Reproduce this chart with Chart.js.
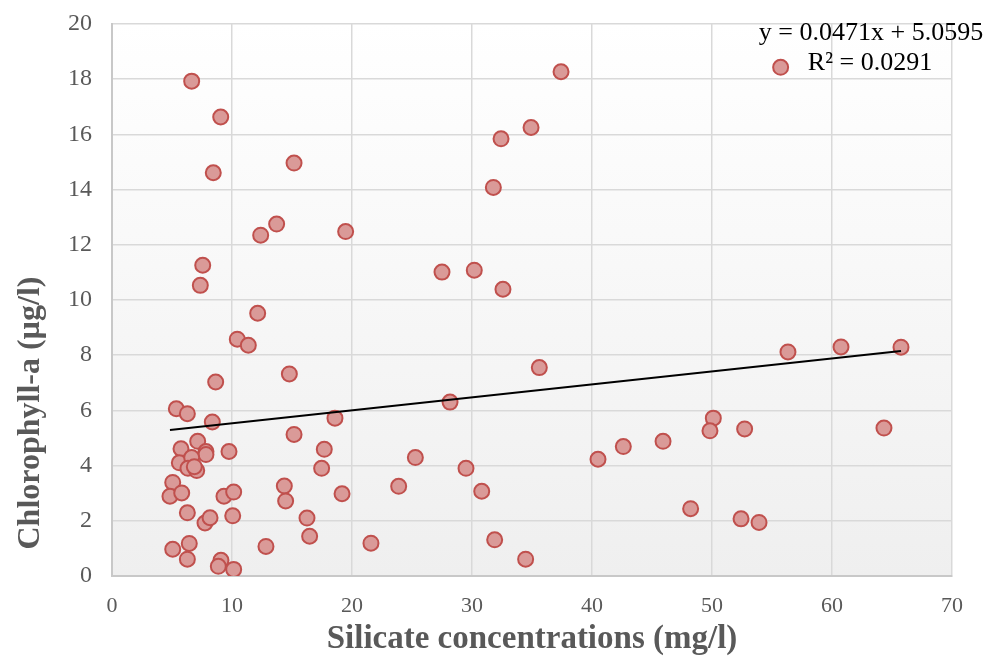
<!DOCTYPE html>
<html>
<head>
<meta charset="utf-8">
<script src="https://cdn.jsdelivr.net/npm/chart.js@4"></script>
<style>
  html, body { margin: 0; padding: 0; background: #ffffff; }
  #wrap { width: 989px; height: 659px; }
</style>
</head>
<body>
<div id="wrap"><canvas id="myChart" width="989" height="659"></canvas></div>
<script>
// Silicate (mg/l) vs chlorophyll-a (µg/l)
const silicate = [
  8.64, 5.36, 6.28, 8.36, 7.14, 5.75, 7.83, 7.83, 9.75, 5.61,
  6.64, 6.33, 7.06, 6.86, 5.06, 4.83, 5.81, 9.33, 10.14, 6.28,
  7.75, 8.17, 10.06, 5.06, 6.44, 6.28, 9.08, 8.86, 10.14, 12.83,
  6.64, 9.06, 8.44, 15.17, 13.72, 12.39, 19.47, 7.56, 7.36, 12.14,
  10.44, 11.36, 14.78, 28.17, 18.58, 15.17, 17.69, 25.28, 29.5, 17.47,
  14.36, 23.89, 30.81, 14.47, 19.17, 16.25, 16.47, 21.58, 31.89, 34.47,
  37.42, 34.92, 32.42, 31.78, 27.5, 30.19, 32.58, 35.61,
  56.33, 60.75, 65.75, 50.11, 49.83, 52.72, 64.33, 45.92, 42.61, 40.5,
  48.22, 52.42, 53.92, 55.72
];
const chlorophyll = [
  7.03, 6.06, 5.88, 5.58, 4.88, 4.61, 4.51, 4.40, 4.51, 4.10,
  4.29, 3.90, 3.82, 3.96, 3.39, 2.89, 3.01, 2.89, 3.04, 2.29,
  1.92, 2.11, 2.18, 0.97, 1.18, 0.61, 0.57, 0.35, 0.24, 1.07,
  17.93, 16.63, 14.61, 14.96, 12.75, 12.35, 12.48, 11.26, 10.53, 9.52,
  8.58, 8.36, 7.32, 6.30, 5.72, 5.13, 4.59, 4.29, 3.90, 3.90,
  3.26, 3.25, 3.07, 2.72, 2.98, 2.10, 1.44, 1.19, 1.31, 0.61,
  18.27, 16.25, 15.84, 14.08, 11.01, 11.08, 10.39, 7.55,
  8.12, 8.30, 8.29, 5.72, 5.26, 5.33, 5.36, 4.88, 4.69, 4.23,
  2.44, 2.07, 1.94, 18.43
];

// linear trend as printed on the chart
const trendSlope = 0.0471;
const trendIntercept = 5.0595;
const trendLabel = ['y = 0.0471x + 5.0595', 'R\u00b2 = 0.0291'];

const xTicks = [0, 10, 20, 30, 40, 50, 60, 70];
const yTicks = [0, 2, 4, 6, 8, 10, 12, 14, 16, 18, 20];
const yTitle = 'Chlorophyll-a (\u00b5g/l)';

const points = silicate.map((x, i) => ({ x: x, y: chlorophyll[i] }));
const xMin = Math.min(...silicate);
const xMax = Math.max(...silicate);
const trend = [xMin, xMax].map(x => ({ x: x, y: trendSlope * x + trendIntercept }));

const serif = '"Liberation Serif", "Times New Roman", serif';

// light gradient behind the plot area
const plotBackground = {
  id: 'plotBackground',
  beforeDraw(chart) {
    const { ctx, chartArea: a } = chart;
    const g = ctx.createLinearGradient(0, a.top, 0, a.bottom);
    g.addColorStop(0, '#ffffff');
    g.addColorStop(1, '#efefef');
    ctx.save();
    ctx.fillStyle = g;
    ctx.fillRect(a.left, a.top, a.right - a.left, a.bottom - a.top);
    ctx.restore();
  }
};

// equation text top right, y title placed a bit below the middle like the original
const extraText = {
  id: 'extraText',
  afterDraw(chart) {
    const ctx = chart.ctx;
    ctx.save();
    ctx.font = '26px ' + serif;
    ctx.fillStyle = '#000000';
    ctx.textAlign = 'center';
    ctx.textBaseline = 'middle';
    ctx.fillText(trendLabel[0], 871, 33);
    ctx.fillText(trendLabel[1], 870, 63);
    ctx.restore();

    ctx.save();
    ctx.translate(31, 413);
    ctx.rotate(-Math.PI / 2);
    ctx.font = 'bold 32px ' + serif;
    ctx.fillStyle = '#595959';
    ctx.textAlign = 'center';
    ctx.textBaseline = 'middle';
    ctx.fillText(yTitle, 0, 0);
    ctx.restore();
  }
};

const config = {
  type: 'scatter',
  data: {
    datasets: [
      {
        label: 'Linear',
        data: trend,
        showLine: true,
        borderColor: '#000000',
        borderWidth: 2,
        pointRadius: 0,
        fill: false
      },
      {
        label: 'Chlorophyll-a',
        data: points,
        backgroundColor: '#da9a98',
        borderColor: '#c0504d',
        borderWidth: 2,
        pointRadius: 7.5,
        pointHoverRadius: 7.5
      }
    ]
  },
  options: {
    responsive: false,
    animation: false,
    layout: { padding: { top: 24, right: 37, left: 0, bottom: 0 } },
    plugins: {
      legend: { display: false },
      tooltip: { enabled: false }
    },
    scales: {
      x: {
        type: 'linear',
        min: 0,
        max: 70,
        afterBuildTicks: scale => { scale.ticks = xTicks.map(v => ({ value: v })); },
        afterFit: scale => {
          scale.height = 83;
          scale.paddingLeft = 0;
          scale.paddingRight = 0;
        },
        grid: { color: '#d9d9d9', lineWidth: 1.5, drawTicks: false },
        border: { color: '#c8c8c8', width: 2 },
        ticks: {
          padding: 17,
          color: '#595959',
          font: { family: serif, size: 22 }
        },
        title: {
          display: true,
          text: 'Silicate concentrations (mg/l)',
          color: '#595959',
          padding: { top: 0, bottom: 0 },
          font: { family: serif, size: 33, weight: 'bold' }
        }
      },
      y: {
        type: 'linear',
        min: 0,
        max: 20,
        afterBuildTicks: scale => { scale.ticks = yTicks.map(v => ({ value: v })); },
        afterFit: scale => {
          scale.width = 112;
          scale.paddingTop = 0;
          scale.paddingBottom = 0;
        },
        grid: { color: '#d9d9d9', lineWidth: 1.5, drawTicks: false },
        border: { color: '#c8c8c8', width: 2 },
        ticks: {
          padding: 20,
          color: '#595959',
          font: { family: serif, size: 24 }
        }
      }
    }
  },
  plugins: [plotBackground, extraText]
};

var myChart = new Chart(document.getElementById('myChart'), config);
</script>
</body>
</html>
